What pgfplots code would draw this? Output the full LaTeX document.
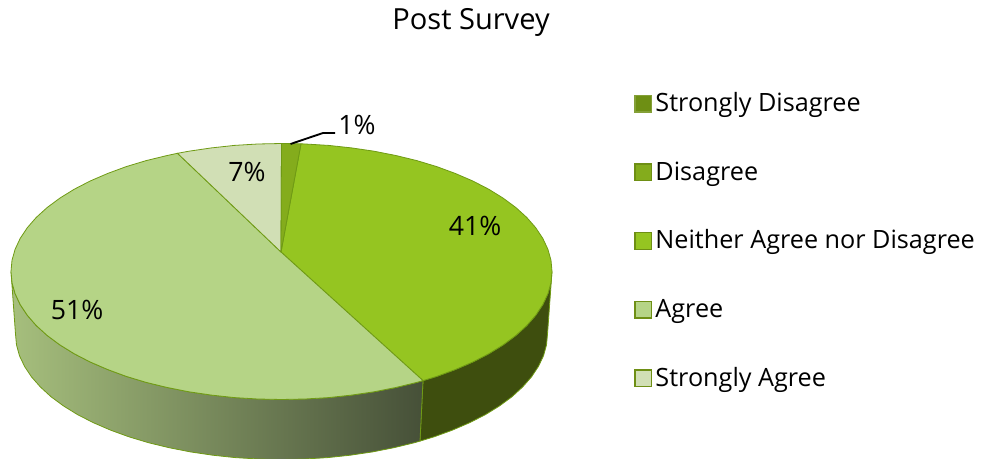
\documentclass[border=0pt]{standalone}
\usepackage{pgfplots}
\pgfplotsset{compat=1.18}
\usepackage{fontspec}
\setmainfont{Open Sans}
\definecolor{edge}{HTML}{6F9A14}
\definecolor{sdis}{HTML}{6E8F14}
\definecolor{dis}{HTML}{84AC1C}
\definecolor{neither}{HTML}{95C521}
\definecolor{agree}{HTML}{B5D486}
\definecolor{sagree}{HTML}{D1DFB5}
\definecolor{wallneither}{HTML}{3E4E0E}
\definecolor{wallL}{HTML}{A6BF7D}
\definecolor{wallR}{HTML}{465038}
\begin{document}
\begin{tikzpicture}
\path[use as bounding box] (0,0) rectangle (735.75pt,344.25pt);
\begin{axis}[
  at={(0,0)}, anchor=south west,
  width=735.75pt, height=344.25pt, scale only axis,
  xmin=0, xmax=981, ymin=0, ymax=459, y dir=reverse,
  hide axis,
  legend cell align=left,
  legend image code/.code={\draw[#1] (0pt,-4.7pt) rectangle (12.4pt,7.7pt);},
  legend style={at={(axis cs:634,94)}, anchor=north west, draw=none, fill=none,
    font=\fontsize{18.9}{20}\selectfont, row sep=34.5pt, inner sep=0pt,
    nodes={text height=13pt, text depth=4pt, inner xsep=2.5pt, inner ysep=0pt}},
]
% legend swatches
\addlegendimage{fill=sdis, draw=sdis!85!white, line width=1pt}
\addlegendentry{Strongly Disagree}
\addlegendimage{fill=dis, draw=sdis, line width=1pt}
\addlegendentry{Disagree}
\addlegendimage{fill=neither, draw=sdis, line width=1pt}
\addlegendentry{Neither Agree nor Disagree}
\addlegendimage{fill=agree, draw=sdis, line width=1pt}
\addlegendentry{Agree}
\addlegendimage{fill=sagree, draw=sdis, line width=1pt}
\addlegendentry{Strongly Agree}

% side wall of the 41% slice
\addplot[forget plot, fill=wallneither, draw=edge, line width=0.6pt] coordinates {
(552.0,271.5)(551.0,282.7)(547.9,293.7)(542.8,304.6)(535.7,315.3)(526.7,325.6)
(515.8,335.5)(503.1,344.9)(488.7,353.8)(472.8,362.0)(455.4,369.5)(436.7,376.4)(423.0,380.6)
(420.0,441.1)(434.1,436.8)(452.5,430.1)(469.6,422.7)(485.3,414.7)(499.4,406.0)(511.9,396.8)
(522.6,387.0)(531.5,376.9)(538.4,366.5)(543.5,355.8)(546.5,344.9)(547.5,334.0)(552.0,271.5)};

% side wall of the 51% slice
\addplot[forget plot, left color=wallL, right color=wallR, draw=edge, line width=0.6pt] coordinates {
(423.0,380.6)(416.8,382.4)(395.8,387.5)(374.0,391.8)(351.5,395.1)(328.5,397.6)(305.1,399.0)(281.5,399.5)
(257.9,399.0)(234.5,397.6)(211.5,395.1)(189.0,391.8)(167.2,387.5)(146.2,382.4)(126.3,376.4)(107.6,369.5)
(90.2,362.0)(74.3,353.8)(59.9,344.9)(47.2,335.5)(36.3,325.6)(27.3,315.3)(20.2,304.6)(15.1,293.7)(12.0,282.7)(11.0,271.5)
(15.5,334.0)(16.5,344.9)(19.5,355.8)(24.6,366.5)(31.5,376.9)(40.4,387.0)(51.1,396.8)(63.6,406.0)(77.7,414.7)
(93.4,422.7)(110.5,430.1)(128.9,436.8)(148.5,442.7)(169.1,447.7)(190.5,451.9)(212.7,455.2)(235.3,457.6)(258.3,459.0)
(281.5,459.5)(304.7,459.0)(327.7,457.6)(350.3,455.2)(372.5,451.9)(393.9,447.7)(414.5,442.7)(420.0,441.1)(423.0,380.6)};

% top face: 41% slice
\addplot[forget plot, fill=neither, draw=edge, line width=0.6pt] coordinates {
(281.0,252.0)(301.0,143.8)(305.1,144.0)(328.5,145.4)(351.5,147.9)(374.0,151.2)(395.8,155.5)(416.8,160.6)(436.7,166.6)
(455.4,173.5)(472.8,181.0)(488.7,189.2)(503.1,198.1)(515.8,207.5)(526.7,217.4)(535.7,227.7)(542.8,238.4)(547.9,249.3)
(551.0,260.3)(552.0,271.5)(551.0,282.7)(547.9,293.7)(542.8,304.6)(535.7,315.3)(526.7,325.6)(515.8,335.5)(503.1,344.9)
(488.7,353.8)(472.8,362.0)(455.4,369.5)(436.7,376.4)(423.0,380.6)(281.0,252.0)};

% top face: 51% slice
\addplot[forget plot, fill=agree, draw=edge, line width=0.6pt] coordinates {
(281.0,252.0)(423.0,380.6)(416.8,382.4)(395.8,387.5)(374.0,391.8)(351.5,395.1)(328.5,397.6)(305.1,399.0)(281.5,399.5)
(257.9,399.0)(234.5,397.6)(211.5,395.1)(189.0,391.8)(167.2,387.5)(146.2,382.4)(126.3,376.4)(107.6,369.5)(90.2,362.0)
(74.3,353.8)(59.9,344.9)(47.2,335.5)(36.3,325.6)(27.3,315.3)(20.2,304.6)(15.1,293.7)(12.0,282.7)(11.0,271.5)(12.0,260.3)
(15.1,249.3)(20.2,238.4)(27.3,227.7)(36.3,217.4)(47.2,207.5)(59.9,198.1)(74.3,189.2)(90.2,181.0)(107.6,173.5)(126.3,166.6)
(146.2,160.6)(167.2,155.5)(177.5,153.3)(281.0,252.0)};

% top face: 7% slice
\addplot[forget plot, fill=sagree, draw=edge, line width=0.6pt] coordinates {
(281.0,252.0)(177.5,153.3)(189.0,151.2)(211.5,147.9)(234.5,145.4)(257.9,144.0)(281.5,143.5)(281.0,252.0)};

% top face: 1% slice
\addplot[forget plot, fill=dis, draw=edge, line width=0.6pt] coordinates {
(281.0,252.0)(281.5,143.5)(301.0,143.8)(281.0,252.0)};

% leader line of the 1% label
\addplot[forget plot, black, line width=1.4pt] coordinates {(290.5,144)(323,133)(335,133)};

\node[font=\fontsize{21.8}{24}\selectfont] at (axis cs:471,22) {Post Survey};
\node[font=\fontsize{20}{22}\selectfont] at (axis cs:357,125) {1\%};
\node[font=\fontsize{20}{22}\selectfont] at (axis cs:247,172) {7\%};
\node[font=\fontsize{20}{22}\selectfont] at (axis cs:475,226) {41\%};
\node[font=\fontsize{20}{22}\selectfont] at (axis cs:77,310) {51\%};
\end{axis}
\end{tikzpicture}
\end{document}
